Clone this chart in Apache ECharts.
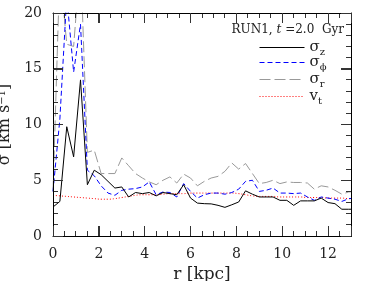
<!DOCTYPE html>
<html><head><meta charset="utf-8">
<script src="https://cdn.jsdelivr.net/npm/echarts@6/dist/echarts.min.js"></script>
<style>html,body{margin:0;padding:0;background:#fff}#c{width:383px;height:281px;background:#fff}</style>
</head><body><div id="c"></div>
<script>
// radius bins [kpc]
const rVals = [0,0.3,0.6,0.9,1.2,1.5,1.8,2.1,2.4,2.7,3.0,3.3,3.6,3.9,4.2,4.5,4.8,5.1,5.4,5.7,6.0,6.3,6.6,6.9,7.2,7.5,7.8,8.1,8.4,8.7,9.0,9.3,9.6,9.9,10.2,10.5,10.8,11.1,11.4,11.7,12.0,12.3,12.6,12.9,13.2];
const sigmaZ = [2.6,3.1,9.8,7.1,14.0,4.6,5.9,5.5,4.9,4.3,4.4,3.5,3.9,3.8,3.9,3.6,3.9,3.8,3.7,4.6,3.4,2.95,2.9,2.88,2.75,2.57,2.8,3.05,4.05,3.75,3.5,3.5,3.5,3.2,3.2,2.75,3.15,3.15,3.15,3.4,3.0,2.9,2.4,2.4,2.4];
const sigmaPhi = [4.0,10.5,21.5,14.7,19.0,5.9,5.4,4.5,3.85,3.65,4.1,4.2,4.25,4.4,4.85,3.7,3.95,3.9,3.5,4.7,4.0,3.4,3.7,3.85,3.85,3.75,3.9,4.2,4.9,5.0,4.0,4.1,4.3,3.85,3.85,3.8,3.85,3.5,3.2,3.5,3.4,3.3,3.1,3.35,3.4];
const sigmaR = [4.0,24.0,17.2,17.0,25.0,7.5,7.7,5.6,5.6,5.6,7.0,6.3,5.6,5.2,4.85,4.6,5.0,5.3,4.75,5.55,5.2,4.5,4.9,5.2,5.35,5.8,6.55,6.0,6.5,5.6,4.7,4.8,5.0,4.7,4.85,4.8,4.8,4.75,4.2,4.5,4.4,4.1,3.75,3.95,4.0];
const vT = [3.65,3.6,3.55,3.5,3.45,3.4,3.35,3.3,3.3,3.35,3.45,3.55,3.65,3.7,3.7,3.7,3.75,3.8,3.8,3.8,3.85,3.85,3.85,3.85,3.85,3.85,3.85,3.8,3.7,3.6,3.55,3.55,3.55,3.5,3.5,3.5,3.5,3.45,3.45,3.45,3.4,3.4,3.4,3.35,3.35];
// tick positions
const xTickLabels = ['0','2','4','6','8','10','12'];
const xMajorTicks = [0,2,4,6,8,10,12];
const xMinorTicks = [0.5,1,1.5,2.5,3,3.5,4.5,5,5.5,6.5,7,7.5,8.5,9,9.5,10.5,11,11.5,12.5];
const yMajorTicks = [0,5,10,15,20];
const yMinorTicks = [1,2,3,4,6,7,8,9,11,12,13,14,16,17,18,19];
const seriesNames = ['sz','sp','sr','vt'];
const legendLabels = ['{s|σ}{b|z}','{s|σ}{b|ϕ}','{s|σ}{b|r}','{s|v}{b|t}'];
const titleText = 'RUN1, {i|t}{a| =2.0  Gyr}';
const xTitle = 'r [kpc]';
const yTitle = '{a|σ [km s}{p|−1}{a|]}';

const F = 'DejaVu Serif';
const TC = '#222';
const XMIN = 0, XMAX = 13, YMIN = 0, YMAX = 20;
const pairs = ys => rVals.map((r,i)=>[r, ys[i]]);

function xAx(pos) {
  const o = {
    type:'value', position:pos, min:XMIN, max:XMAX, interval:2, z:10,
    axisLine:{show:true, onZero:false, lineStyle:{color:'#000', width:1}},
    axisTick:{show:true, inside:true, length:10, lineStyle:{color:'#333', width:1}},
    axisLabel:{show: pos==='bottom', margin:11, fontFamily:F, fontSize:14, color:TC,
      formatter: v => (xTickLabels.indexOf(String(v)) >= 0 ? String(v) : '')},
    splitLine:{show:false}
  };
  if (pos==='bottom') {
    o.name = xTitle; o.nameLocation = 'middle'; o.nameGap = 29;
    o.nameTextStyle = {fontFamily:F, fontSize:17, color:TC};
  }
  return o;
}
function yAx(pos) {
  const o = {
    type:'value', position:pos, min:YMIN, max:YMAX, interval:5, z:10,
    axisLine:{show:true, onZero:false, lineStyle:{color:'#000', width:1}},
    axisTick:{show:true, inside:true, length:10, lineStyle:{color:'#333', width:1}},
    axisLabel:{show: pos==='left', margin:11, fontFamily:F, fontSize:14, color:TC},
    splitLine:{show:false}
  };
  if (pos==='left') {
    o.name = yTitle; o.nameLocation = 'middle'; o.nameGap = 33;
    o.nameTextStyle = {fontFamily:F, fontSize:16, color:TC,
      rich:{a:{fontFamily:F, fontSize:16, color:TC}, p:{fontFamily:F, fontSize:10, color:TC, verticalAlign:'top', lineHeight:10}}};
  }
  return o;
}

// tick marks + frame drawn through the axes' own scale (api.coord)
// code: 0 = x major, 1 = x minor, 2 = y major, 3 = y minor, 4 = frame
const tickData = []
  .concat(xMajorTicks.map(v => [v, YMIN, 0]))
  .concat(xMinorTicks.map(v => [v, YMIN, 1]))
  .concat(yMajorTicks.map(v => [XMIN, v, 2]))
  .concat(yMinorTicks.map(v => [XMIN, v, 3]))
  .concat([[XMIN, YMIN, 4]]);
const px = v => Math.round(v - 0.5) + 0.5;
function renderTick(params, api) {
  const code = api.value(2);
  const st = {stroke: code === 4 ? '#000' : '#333', lineWidth: 1};
  const lines = [];
  if (code === 0 || code === 1) {
    const len = code === 0 ? 10 : 5;
    const v = api.value(0);
    const b = api.coord([v, YMIN]), t = api.coord([v, YMAX]);
    const x = px(b[0]);
    lines.push([x, b[1], x, b[1] - len], [x, t[1], x, t[1] + len]);
  } else if (code === 2 || code === 3) {
    const len = code === 2 ? 10 : 5;
    const v = api.value(1);
    const l = api.coord([XMIN, v]), r = api.coord([XMAX, v]);
    const y = px(l[1]);
    lines.push([l[0], y, l[0] + len, y], [r[0], y, r[0] - len, y]);
  } else {
    const tl = api.coord([XMIN, YMAX]), tr = api.coord([XMAX, YMAX]), br = api.coord([XMAX, YMIN]), bl = api.coord([XMIN, YMIN]);
    const yt = px(tl[1]), xr = px(tr[0]), yb = px(bl[1]), xl = px(bl[0]);
    lines.push([xl, yt, xr, yt], [xr, yt, xr, yb], [xl, yb, xr, yb], [xl, yt, xl, yb]);
  }
  return {type:'group', children: lines.map(p => ({type:'line', shape:{x1:p[0], y1:p[1], x2:p[2], y2:p[3]}, style:st, silent:true}))};
}

const styles = [
  {color:'#000000', type:'solid'},
  {color:'#0000ff', type:[5,3]},
  {color:'#999999', type:[11,4]},
  {color:'#ff0000', type:[1,2]}
];
const datas = [sigmaZ, sigmaPhi, sigmaR, vT];
const legendTops = [40, 55, 72, 89];

const option = {
  animation:false,
  grid:{show:false, left:53, right:32, top:13, bottom:45, outerBoundsMode:'none'},
  xAxis:[xAx('bottom'), xAx('top')],
  yAxis:[yAx('left'), yAx('right')],
  legend: seriesNames.map((n,i)=>({
    data:[n], orient:'vertical', left:259, top:legendTops[i], itemWidth:45, itemHeight:14, itemGap:0,
    selectedMode:false, padding:0,
    itemStyle:{opacity:0},
    lineStyle:{color:styles[i].color, type:styles[i].type, width:1},
    formatter: () => legendLabels[i],
    textStyle:{fontFamily:F, fontSize:15, color:TC,
      rich:{s:{fontFamily:F, fontSize:15, color:TC, lineHeight:20}, b:{fontFamily:F, fontSize:10, color:TC, verticalAlign:'bottom', lineHeight:10}}}
  })),
  graphic:[{type:'text', right:39, top:24,
    style:{text:titleText, fill:TC, font:'12px "DejaVu Serif"',
      rich:{i:{fontFamily:F, fontSize:12, fontStyle:'italic', fill:TC}, a:{fontFamily:F, fontSize:12, fill:TC}}}}],
  series: [3,2,1,0].map(i=>({
    name:seriesNames[i], type:'line', xAxisIndex:0, yAxisIndex:0, data:pairs(datas[i]),
    symbol:'none', showSymbol:false, smooth:(i===3),
    lineStyle:{color:styles[i].color, type:styles[i].type, width:1},
    itemStyle:{color:styles[i].color}
  })).concat([{
    name:'frame', type:'custom', xAxisIndex:0, yAxisIndex:0, data:tickData,
    encode:{x:0, y:1}, renderItem:renderTick, silent:true, clip:false, z:6
  }])
};
const chart = echarts.init(document.getElementById('c'), null, {renderer:'canvas'});
chart.setOption(option);
</script></body></html>
